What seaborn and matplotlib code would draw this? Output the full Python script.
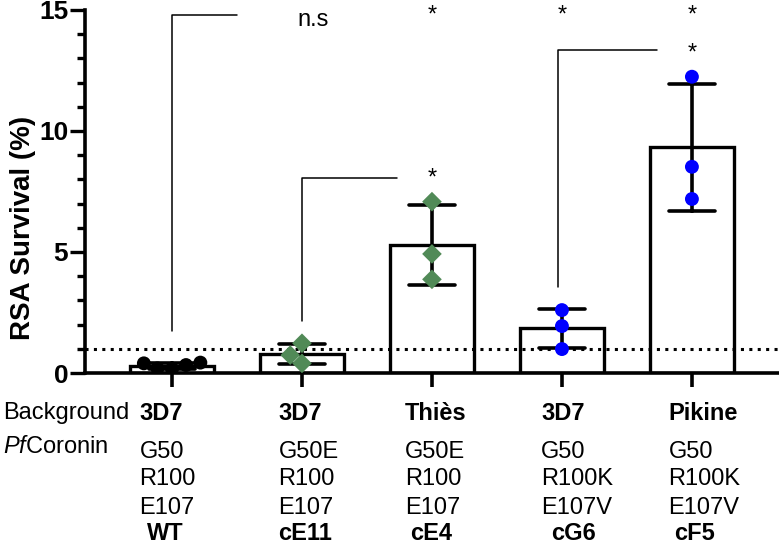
import numpy as np
import pandas as pd
import matplotlib
matplotlib.use('Agg')
import matplotlib.pyplot as plt
import matplotlib.transforms as mtransforms
from matplotlib.ticker import MultipleLocator
import seaborn as sns

# clones and their RSA survival replicates (%)
strains = ['WT', 'cE11', 'cE4', 'cG6', 'cF5']
wt_vals = [0.19, 0.43, 0.33, 0.40, 0.17]
ce11_vals = [0.40, 0.74, 1.23]
ce4_vals = [3.87, 4.92, 7.08]
cg6_vals = [0.99, 1.94, 2.60]
cf5_vals = [7.19, 8.52, 12.24]

# table under the axis
backgrounds = ['3D7', '3D7', 'Thiès', '3D7', 'Pikine']
g50 = ['G50', 'G50E', 'G50E', 'G50', 'G50']
r100 = ['R100', 'R100', 'R100', 'R100K', 'R100K']
e107 = ['E107', 'E107', 'E107', 'E107V', 'E107V']

point_colors = {'WT': 'black', 'cE11': '#518a57', 'cE4': '#518a57',
                'cG6': '#0000ff', 'cF5': '#0000ff'}
point_markers = {'WT': 'o', 'cE11': 'D', 'cE4': 'D', 'cG6': 'o', 'cF5': 'o'}

df = pd.DataFrame({
    'strain': ['WT'] * len(wt_vals) + ['cE11'] * len(ce11_vals) + ['cE4'] * len(ce4_vals)
              + ['cG6'] * len(cg6_vals) + ['cF5'] * len(cf5_vals),
    'survival': wt_vals + ce11_vals + ce4_vals + cg6_vals + cf5_vals,
})
df['marker'] = df['strain'].map(point_markers)

sns.set_style('ticks')
plt.rcParams['font.family'] = ['Liberation Sans', 'DejaVu Sans']
plt.rcParams['mathtext.fontset'] = 'custom'
plt.rcParams['mathtext.rm'] = 'Liberation Sans'
plt.rcParams['mathtext.it'] = 'Liberation Sans:italic'
for k in ['text.color', 'axes.labelcolor', 'xtick.color', 'ytick.color', 'axes.edgecolor']:
    plt.rcParams[k] = 'black'

fig = plt.figure(figsize=(7.79, 5.51), dpi=100)
ax = fig.add_axes([0.109, 0.323, 0.891, 0.659])

sns.barplot(data=df, x='strain', y='survival', order=strains, errorbar='sd',
            capsize=0.35, width=0.65, color='white', saturation=1,
            edgecolor='black', linewidth=2.4,
            err_kws={'color': 'black', 'linewidth': 2.6}, ax=ax)

for mk, sz in [('o', 10), ('D', 10)]:
    sub = df[df['marker'] == mk]
    sns.swarmplot(data=sub, x='strain', y='survival', order=strains, hue='strain',
                  palette=point_colors, marker=mk, size=sz, linewidth=0,
                  legend=False, ax=ax, zorder=5)

ax.axhline(1, color='black', linestyle=(0, (1, 1.75)), linewidth=2.2, zorder=4)

# comparison brackets: x start, y low, y high, x end
brackets = [(0, 1.75, 14.8, 0.50), (1, 2.16, 8.07, 1.73), (2.97, 3.57, 13.35, 3.73)]
for x0, y0, y1, x1 in brackets:
    ax.plot([x0, x0, x1], [y0, y1, y1], color='black', lw=1.1, clip_on=False, zorder=3)

ax.text(1.085, 14.6, 'n.s', ha='center', va='center', fontsize=17)
for x, y in [(2, 14.75), (3, 14.75), (4, 14.75), (4, 13.2), (2, 8.05)]:
    ax.text(x, y, '*', ha='center', va='center', fontsize=17)

ax.set_xlim(-0.67, 4.67)
ax.set_ylim(0, 15)
ax.yaxis.set_major_locator(MultipleLocator(5))
ax.yaxis.set_minor_locator(MultipleLocator(1))
ax.tick_params(axis='y', which='major', length=11, width=2.4, pad=1, labelsize=19)
ax.tick_params(axis='y', which='minor', length=6, width=2.4)
ax.tick_params(axis='x', length=10, width=2.6, labelbottom=False)
for lab in ax.get_yticklabels():
    lab.set_fontweight('bold')
for s in ['top', 'right']:
    ax.spines[s].set_visible(False)
for s in ['left', 'bottom']:
    ax.spines[s].set_linewidth(2.6)
ax.set_xlabel('')
ax.set_ylabel('RSA Survival (%)', fontsize=20, fontweight='bold')
ax.yaxis.set_label_coords(-0.07, 0.40)

# genotype table
trans = mtransforms.blended_transform_factory(ax.transData, fig.transFigure)
col_left = [-0.25, 0.82, 1.79, 2.84, 3.82]
id_left = [-0.19, 0.82, 1.83, 2.92, 3.86]


def fy(px):
    return 1 - px / 551


fig.text(0.004, fy(413), 'Background', fontsize=17, va='center')
fig.text(0.004, fy(447), r'$\mathit{Pf}$Coronin', fontsize=17, va='center')
for i in range(len(strains)):
    ax.text(col_left[i], fy(414), backgrounds[i], transform=trans, fontsize=17,
            fontweight='bold', va='center')
    ax.text(col_left[i], fy(452), g50[i], transform=trans, fontsize=17, va='center')
    ax.text(col_left[i], fy(479), r100[i], transform=trans, fontsize=17, va='center')
    ax.text(col_left[i], fy(508), e107[i], transform=trans, fontsize=17, va='center')
    ax.text(id_left[i], fy(534), strains[i], transform=trans, fontsize=17,
            fontweight='bold', va='center')

fig.savefig('out.png', dpi=100)
